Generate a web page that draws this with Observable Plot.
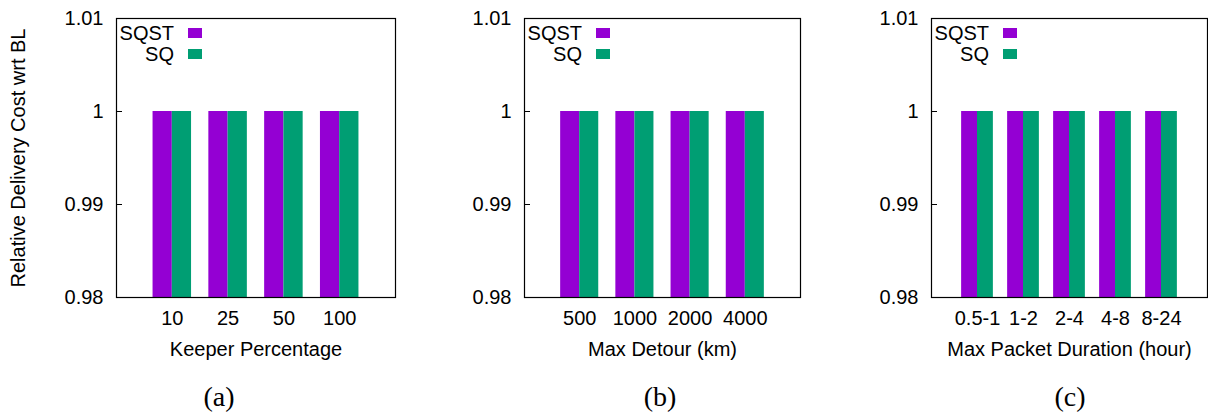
<!DOCTYPE html>
<html><head><meta charset="utf-8">
<script src="https://cdn.jsdelivr.net/npm/d3@7"></script>
<script src="https://cdn.jsdelivr.net/npm/@observablehq/plot@0.6"></script>
<style>
body{margin:0;background:#fff;font-family:"Liberation Sans",Arial,sans-serif;}
#root{position:relative;width:1208px;height:414px;overflow:hidden;background:#fff}
.panel{position:absolute;top:0}
.cap{position:absolute;font-family:"Liberation Serif","Times New Roman",serif;font-size:28px;line-height:28px;transform:translateX(-50%);color:#000}
.legtxt{position:absolute;font-size:20px;line-height:20px;text-align:right;color:#000;transform:translateX(-100%);white-space:nowrap}
.legsw{position:absolute;width:14px;height:10px}
</style></head><body><div id="root"></div>
<script>
// ---- data ----
const seriesNames = ["SQST", "SQ"];
const seriesColors = ["#9400d3", "#009e73"];

const catsA = ["10", "25", "50", "100"];
const sqstA = [1, 1, 1, 1];
const sqA   = [1, 1, 1, 1];

const catsB = ["500", "1000", "2000", "4000"];
const sqstB = [1, 1, 1, 1];
const sqB   = [1, 1, 1, 1];

const catsC = ["0.5-1", "1-2", "2-4", "4-8", "8-24"];
const sqstC = [1, 1, 1, 1, 1];
const sqC   = [1, 1, 1, 1, 1];

const yTicks = [0.98, 0.99, 1, 1.01];
const yTickLabels = ["0.98", "0.99", "1", "1.01"];
const yLabel = "Relative Delivery Cost wrt BL";
const xLabels = ["Keeper Percentage", "Max Detour (km)", "Max Packet Duration (hour)"];
const captions = ["(a)", "(b)", "(c)"];

// ---- layout ----
const H = 365, MT = 18, MB = 68;
const layouts = [
  {left: 0,   width: 410, ml: 116, mr: 15, capX: 219},
  {left: 410, width: 410, ml: 114, mr: 20, capX: 660},
  {left: 820, width: 388, ml: 111, mr: 1,  capX: 1070}
];
const panels = [
  {cats: catsA, v: [sqstA, sqA]},
  {cats: catsB, v: [sqstB, sqB]},
  {cats: catsC, v: [sqstC, sqC]}
];
const bw = 0.345;
const root = document.getElementById("root");
const font = '"Liberation Sans", Arial, sans-serif';

panels.forEach((p, k) => {
  const L = layouts[k];
  const n = p.cats.length;
  const rows = [];
  p.cats.forEach((c, i) => {
    seriesNames.forEach((s, j) => rows.push({i, cat: c, series: s, value: p.v[j][i], j}));
  });
  const frameW = L.width - L.ml - L.mr;
  const chart = Plot.plot({
    width: L.width, height: H,
    marginTop: MT, marginBottom: MB, marginLeft: L.ml, marginRight: L.mr,
    style: {fontFamily: font, fontSize: "20px", color: "#000", background: "transparent", overflow: "visible"},
    x: {domain: [-1, n], axis: null},
    y: {domain: [yTicks[0], yTicks[yTicks.length - 1]], axis: null},
    color: {domain: seriesNames, range: seriesColors},
    marks: [
      Plot.rectY(rows, {
        x1: d => d.i - bw + d.j * bw,
        x2: d => d.i + d.j * bw,
        y1: yTicks[0], y2: "value", fill: "series"
      }),
      Plot.ruleY(yTicks, {y: d => d, stroke: "#000", insetRight: frameW - 6}),
      Plot.frame({stroke: "#000", strokeWidth: 1.2}),
      Plot.axisY(yTicks, {
        anchor: "left", tickSize: 0, tickPadding: 13,
        tickFormat: d => yTickLabels[yTicks.indexOf(d)],
        fontSize: 20,
        label: k === 0 ? yLabel : null, labelAnchor: "center", labelOffset: 106, labelArrow: "none"
      }),
      Plot.axisX(p.cats.map((c, i) => i), {
        anchor: "bottom", tickSize: 0, tickPadding: 13,
        tickFormat: i => p.cats[i], fontSize: 20,
        label: xLabels[k], labelAnchor: "center", labelOffset: 58, labelArrow: "none"
      })
    ]
  });
  const wrap = document.createElement("div");
  wrap.className = "panel";
  wrap.style.left = L.left + "px";
  wrap.appendChild(chart);
  root.appendChild(wrap);

  // legend (top-left inside frame)
  const fl = L.left + L.ml;
  seriesNames.forEach((s, j) => {
    const t = document.createElement("div");
    t.className = "legtxt";
    t.textContent = s;
    t.style.left = (fl + 58) + "px";
    t.style.top = (23 + 21 * j) + "px";
    root.appendChild(t);
    const sw = document.createElement("div");
    sw.className = "legsw";
    sw.style.left = (fl + 72) + "px";
    sw.style.top = (28 + 21 * j) + "px";
    sw.style.background = seriesColors[j];
    root.appendChild(sw);
  });

  const cap = document.createElement("div");
  cap.className = "cap";
  cap.textContent = captions[k];
  cap.style.left = L.capX + "px";
  cap.style.top = "383px";
  root.appendChild(cap);
});
</script>
</body></html>
